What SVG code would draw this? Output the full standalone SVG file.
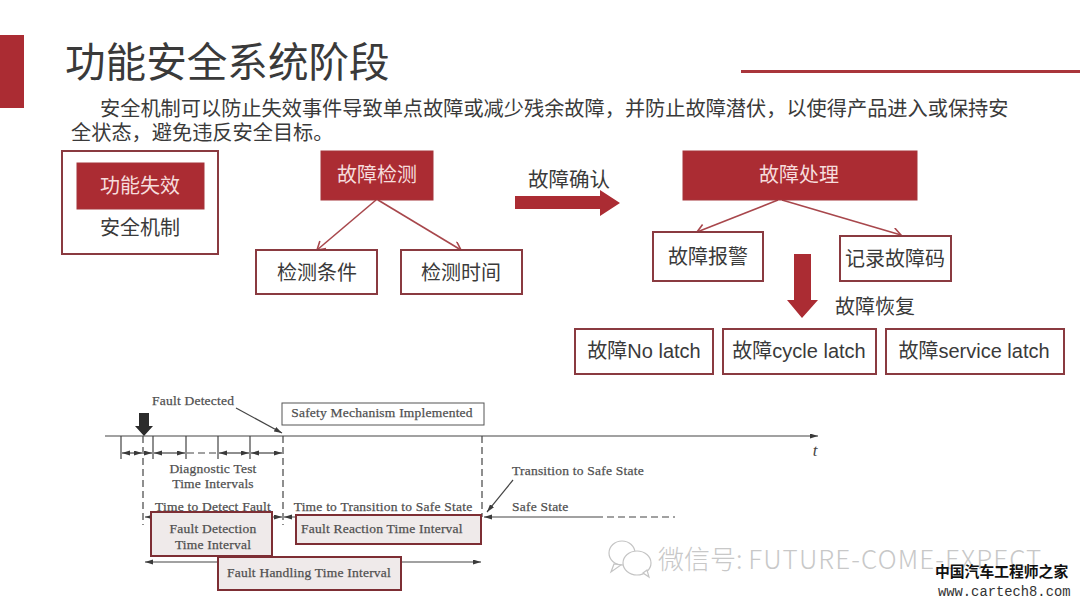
<svg xmlns="http://www.w3.org/2000/svg" width="1080" height="608" viewBox="0 0 1080 608">
<style>
text{font-family:"Noto Sans CJK SC","Liberation Sans",sans-serif;fill:#3a3a3a}
.c{text-anchor:middle}
.box{fill:#fff;stroke:#8a3a40;stroke-width:2}
.red{fill:#ab2c33;stroke:#a5343a;stroke-width:1}
.lbl{font-size:20px;text-anchor:middle}
.w{fill:#f6dcdc}
.en{font-family:"Liberation Sans","Noto Sans CJK SC",sans-serif;font-size:20px;text-anchor:middle}
.s{font-family:"Liberation Serif",serif;font-size:13.5px;fill:#505050;stroke:#505050;stroke-width:.25;letter-spacing:.22px}
.tl{stroke:#444;stroke-width:1.2;fill:none}
.ds{stroke-dasharray:7 4}
.rc{stroke:#a8474c;stroke-width:1.6;fill:none;marker-end:url(#open)}
.gb{fill:#efeaea;stroke:#7d2e34;stroke-width:2}
.wm{fill:#fff;stroke:#c4c4c4;stroke-width:1.2}
</style>
<defs>
<marker id="open" markerWidth="12" markerHeight="12" refX="9" refY="5" orient="auto" markerUnits="userSpaceOnUse"><path d="M1 0L9 5L1 10" fill="none" stroke="#a8474c" stroke-width="1.6"/></marker>
<marker id="tip" markerWidth="10" markerHeight="6" refX="8" refY="2.5" orient="auto-start-reverse" markerUnits="userSpaceOnUse"><path d="M0 0L8 2.5L0 5Z" fill="#3a3a3a"/></marker>
</defs>
<g id="header">
<rect x="0" y="35" width="24" height="73" fill="#ab2c33"/>
<rect x="741" y="70" width="339" height="3" fill="#a9353b"/>
<text x="65" y="77" font-size="40.6" fill="#333">功能安全系统阶段</text>
<text x="100" y="116" font-size="20.2">安全机制可以防止失效事件导致单点故障或减少残余故障，并防止故障潜伏，以使得产品进入或保持安</text>
<text x="71" y="140" font-size="20.2">全状态，避免违反安全目标。</text>
</g>
<g id="connectors">
<path class="rc" d="M376 200L317 250"/>
<path class="rc" d="M378 200L461 250"/>
<path class="rc" d="M778 200L697 232"/>
<path class="rc" d="M782 200L901 235"/>
<path d="M515 196H600V190L620 203L600 216V209H515Z" fill="#ab2c33"/>
<path d="M794 254H811V300H818L802 318L787 300H794Z" fill="#ab2c33"/>
</g>
<g id="n-func"><rect class="box" x="62" y="151" width="156" height="103"/><rect class="red" x="77" y="163" width="127" height="46"/><text class="lbl w" x="140" y="193">功能失效</text><text class="lbl" x="140" y="235">安全机制</text></g>
<g id="n-detect"><rect class="red" x="321" y="151" width="112" height="49"/><text class="lbl w" x="377" y="182">故障检测</text></g>
<g id="n-cond"><rect class="box" x="256" y="250" width="121" height="44"/><text class="lbl" x="317" y="280">检测条件</text></g>
<g id="n-time"><rect class="box" x="401" y="250" width="121" height="44"/><text class="lbl" x="461" y="280">检测时间</text></g>
<g id="n-confirm"><text class="lbl" x="569" y="187" style="font-size:20.5px">故障确认</text></g>
<g id="n-handle"><rect class="red" x="683" y="151" width="234" height="49"/><text class="lbl w" x="799" y="182">故障处理</text></g>
<g id="n-alarm"><rect class="box" x="653" y="232" width="110" height="49"/><text class="lbl" x="708" y="264">故障报警</text></g>
<g id="n-code"><rect class="box" x="840" y="236" width="111" height="45"/><text class="lbl" x="895" y="266">记录故障码</text></g>
<g id="n-recover"><text class="lbl" x="875" y="314">故障恢复</text></g>
<g id="n-nolatch"><rect class="box" x="575" y="329" width="138" height="45"/><text class="en" x="644" y="358">故障No latch</text></g>
<g id="n-cycle"><rect class="box" x="723" y="329" width="153" height="45"/><text class="en" x="799" y="358">故障cycle latch</text></g>
<g id="n-service"><rect class="box" x="886" y="329" width="178" height="45"/><text class="en" x="974" y="358">故障service latch</text></g>
<g id="timeline">
<path class="tl" d="M105 436H818" marker-end="url(#tip)"/>
<path d="M139 413H149V426H153L144 436L135 426H139Z" fill="#2b2b2b"/>
<path class="tl" d="M121 436V459M153 436V459M186 436V459M218 436V459M250 436V459"/>
<path class="tl ds" d="M143 436V525M283 436V525M482 436V517"/>
<g class="tl">
<path d="M122 453H142" marker-start="url(#tip)" marker-end="url(#tip)"/>
<path d="M144 453H152" marker-end="url(#tip)"/>
<path d="M154 453H185" marker-start="url(#tip)" marker-end="url(#tip)"/>
<path class="ds" d="M187 453H217"/>
<path d="M219 453H249" marker-start="url(#tip)" marker-end="url(#tip)"/>
<path d="M251 453H282" marker-start="url(#tip)" marker-end="url(#tip)"/>
<path d="M145 517H282" marker-start="url(#tip)" marker-end="url(#tip)"/>
<path d="M284 517H481" marker-start="url(#tip)" marker-end="url(#tip)"/>
<path d="M596 517H484" marker-end="url(#tip)"/>
<path class="ds" d="M596 517H675"/>
<path d="M145 562H481" marker-start="url(#tip)" marker-end="url(#tip)"/>
<path d="M236 408L282 433" marker-end="url(#tip)"/>
<path d="M513 480L487 512" marker-end="url(#tip)"/>
</g>
<text class="s" x="152" y="405">Fault Detected</text>
<rect x="282" y="403" width="202" height="22" fill="#fff" stroke="#555" stroke-width="1"/>
<text class="s c" x="382" y="417">Safety Mechanism Implemented</text>
<text class="s c" x="213" y="473">Diagnostic Test</text>
<text class="s c" x="213" y="488">Time Intervals</text>
<text class="s c" x="213" y="511">Time to Detect Fault</text>
<text class="s c" x="383" y="511">Time to Transition to Safe State</text>
<text class="s" x="512" y="475">Transition to Safe State</text>
<text class="s" x="512" y="511">Safe State</text>
<text x="815" y="456" text-anchor="middle" style="font-family:'Liberation Serif',serif;font-style:italic;font-size:17px;fill:#444">t</text>
<rect class="gb" x="151" y="512" width="121" height="44"/>
<text class="s c" x="213" y="533">Fault Detection</text>
<text class="s c" x="213" y="549">Time Interval</text>
<rect class="gb" x="296" y="515" width="185" height="29"/>
<text class="s" x="301" y="533">Fault Reaction Time Interval</text>
<rect class="gb" x="218" y="557" width="183" height="33"/>
<text class="s c" x="309" y="577">Fault Handling Time Interval</text>
</g>
<g id="watermark">
<ellipse class="wm" cx="622" cy="553" rx="13" ry="12"/>
<path class="wm" d="M614 564L611 572L621 565Z"/>
<ellipse class="wm" cx="637" cy="563" rx="14" ry="12"/>
<path class="wm" d="M643 573L649 577L647 570Z"/>
<text x="658" y="569" font-size="26" style="fill:#c8c8c8;font-weight:300">微信号: <tspan style="letter-spacing:1.1px">FUTURE-COME-EXPECT</tspan></text>
<text x="935" y="577" font-size="14.8" style="fill:#111;font-weight:bold">中国汽车工程师之家</text>
<text x="938" y="596" font-size="13.8" style="fill:#333;font-family:'Liberation Mono',monospace">www.cartech8.com</text>
</g>
</svg>
